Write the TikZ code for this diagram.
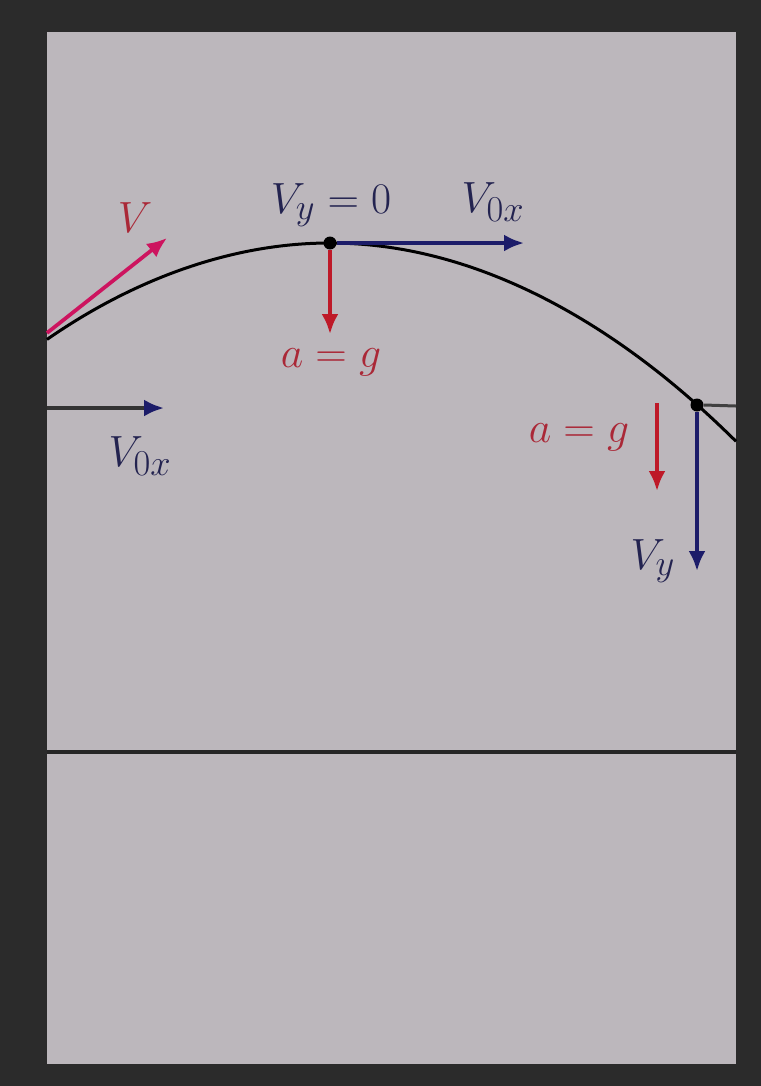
\documentclass[tikz,border=0pt]{standalone}
\usepackage{tikz}
\usetikzlibrary{arrows.meta, positioning}
\definecolor{PanelGray}{RGB}{188,183,188}
\definecolor{FrameDark}{RGB}{43,43,43}
\definecolor{VecNavy}{RGB}{28,28,105}
\definecolor{AccRed}{RGB}{190,25,40}
\definecolor{VelPink}{RGB}{205,20,95}
\definecolor{LabelRed}{RGB}{170,40,55}
\definecolor{LabelNavy}{RGB}{35,35,80}

\begin{document}
\begin{tikzpicture}[x=0.02cm, y=-0.02cm, font=\Huge,
	dotnode/.style={circle, fill=black, minimum size=0.26cm, inner sep=0pt},
	vec/.style={-{Latex[length=4mm, width=3.4mm]}, line width=0.075cm, VecNavy},
	acc/.style={-{Latex[length=4mm, width=3.4mm]}, line width=0.075cm, AccRed},
	lbl/.style={text=LabelNavy, inner sep=0pt}]

	% fondo y panel
	\fill[FrameDark] (0,0) rectangle (761,1086);
	\fill[PanelGray] (47,32) rectangle (736,1064);
	\useasboundingbox (0,0) rectangle (761,1086);

	% trayectoria
	\draw[line width=0.06cm, black] (47,339.4) parabola bend (330,243) (736,441.3);
	\draw[line width=0.08cm, black!85] (47,752) -- (736,752);

	% puntos
	\node[dotnode] (top) at (330,243) {};
	\node[dotnode] (fall) at (697,405) {};

	% lado izquierdo
	\coordinate (vstart) at (47,333);
	\coordinate (vtip) at (167,238);
	\coordinate (oxstart) at (47,408);
	\coordinate (oxtip) at (164,408);
	\draw[-{Latex[length=4mm, width=3.4mm]}, line width=0.075cm, VelPink] (vstart) -- (vtip);
	\draw[-{Latex[length=4mm, width=3.4mm, color=VecNavy]}, line width=0.075cm, black!80] (oxstart) -- (oxtip);
	\node[lbl, text=LabelRed] (vlab) at (135,218) {$V$};
	\node[lbl] (oxlab) at (140,456) {$V_{0x}$};

	% punto mas alto
	\coordinate (vxtip) at (524,243);
	\coordinate (gtip) at (330,334);
	\draw[vec] (top.east) -- (vxtip);
	\draw[acc] (top.south) -- (gtip);
	\node[lbl] (vy0) at (331,205) {$V_y = 0$};
	\node[lbl] (vxlab) at (493,202) {$V_{0x}$};
	\node[lbl, text=LabelRed] (ag1) at (331,362) {$a = g$};

	% punto de bajada
	\coordinate (edge) at (736,406);
	\coordinate (vytip) at (697,571);
	\coordinate (g2start) at (657,403);
	\coordinate (g2tip) at (657,491);
	\draw[line width=0.06cm, black!75] (fall.east) -- (edge);
	\draw[vec] (fall.south) -- (vytip);
	\draw[acc] (g2start) -- (g2tip);
	\node[lbl, text=LabelRed] (ag2) at (579,437) {$a = g$};
	\node[lbl] (vylab) at (653,561) {$V_y$};
\end{tikzpicture}
\end{document}
